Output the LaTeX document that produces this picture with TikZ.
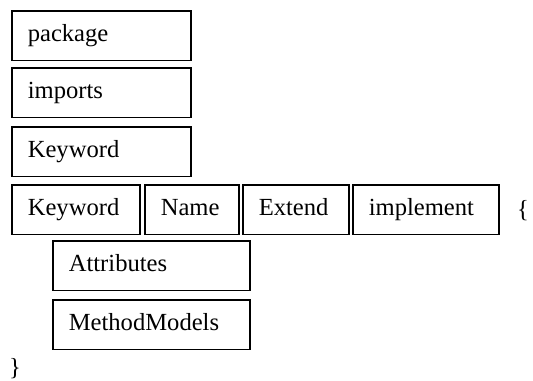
\documentclass[tikz,border=0pt]{standalone}
\usepackage{fontspec}
\setmainfont{Liberation Serif}
\tikzset{
	cell/.style={draw=black, line width=0.8pt, anchor=north west, minimum height=24.75pt, inner xsep=8pt, inner ysep=0pt, text width=#1, align=left, text height=8.6pt, text depth=2.6pt},
	brace/.style={inner sep=0pt}
}
\begin{document}
\begin{tikzpicture}[x=0.5pt, y=-0.5pt, font=\fontsize{12.3}{14}\selectfont]
		\useasboundingbox (0,0) rectangle (533,380);
		\node[cell=73.5pt] (pkg) at (11,10) {package};
		\node[cell=73.5pt] (imp) at (11,67) {imports};
		\node[cell=73.5pt] (kwa) at (11,126) {Keyword};
		\node[cell=48pt] (kwb) at (11,184) {Keyword};
		\node[cell=31pt] (name) at (144,184) {Name};
		\node[cell=37pt] (ext) at (242,184) {Extend};
		\node[cell=57pt] (impl) at (352,184) {implement};
		\node[cell=82.5pt] (attr) at (52,240) {Attributes};
		\node[cell=82.5pt] (meth) at (52,299) {MethodModels};
		\path (523,211) node[brace] (open) {\{} (15,369) node[brace] (close) {\}};
	\end{tikzpicture}
\end{document}
